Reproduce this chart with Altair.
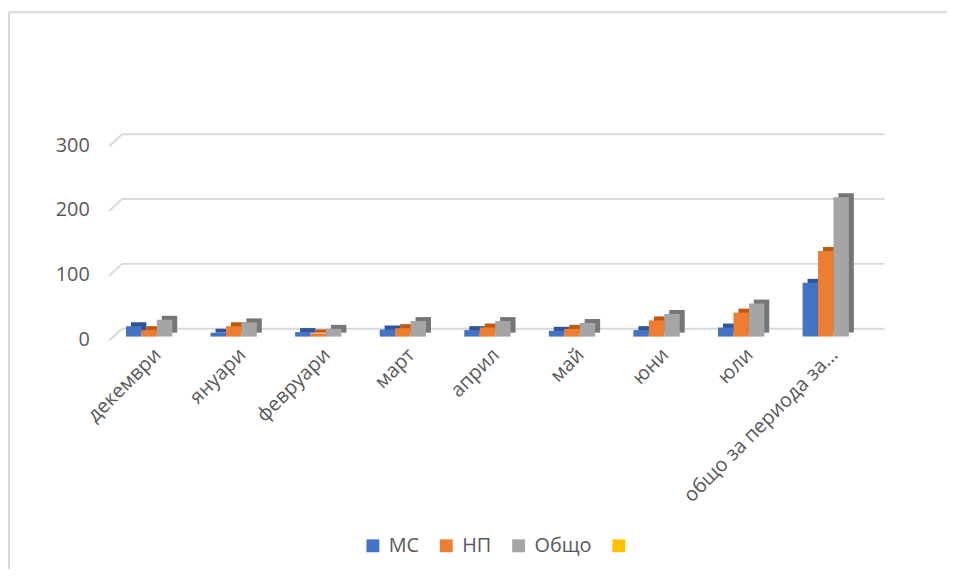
import altair as alt
import pandas as pd

# ---- data ----
categories = ["декември", "януари", "февруари", "март", "април", "май", "юни", "юли", "общо за периода за…"]
ms_values = [16, 6, 7, 11, 10, 9, 10, 14, 83]
np_values = [10, 16, 5, 13, 14, 12, 25, 37, 132]
total_values = [26, 22, 12, 24, 24, 21, 35, 51, 215]
series_names = ["МС", "НП", "Общо"]
legend_names = ["МС", "НП", "Общо", " "]
front_colors = ["#4472C4", "#ED7D31", "#A5A5A5", "#FFC000"]
side_colors = ["#2F5597", "#C0580F", "#767676"]
y_ticks = [0, 100, 200, 300]

rows = []
for i, c in enumerate(categories):
    for s, vals in zip(series_names, [ms_values, np_values, total_values]):
        rows.append({"cat": c, "series": s, "value": vals[i]})
df = pd.DataFrame(rows)
grid_df = pd.DataFrame({"value": y_ticks})
one = pd.DataFrame({"a": [0]})

W, H = 767, 196
FONT = "Open Sans"
GRID = "#D9D9D9"

y_axis = alt.Axis(title=None, values=y_ticks, labelFontSize=20, labelFont=FONT,
                  labelColor="#595959", domain=False, ticks=False, grid=False,
                  labelPadding=18, labelOffset=3)
y_scale = alt.Scale(domain=[0, 300], nice=False)

x_enc = alt.X("cat:N", sort=categories,
              scale=alt.Scale(paddingInner=0.453, paddingOuter=0.2225),
              axis=alt.Axis(title=None, labelAngle=315, labelAlign="right", labelBaseline="middle",
                            labelPadding=15, labelOffset=9, labelFontSize=20, labelFont=FONT,
                            labelColor="#595959", domain=False, ticks=False, labelLimit=400,
                            labelOverlap=False))
y_enc = alt.Y("value:Q", scale=y_scale, axis=y_axis)

# back wall gridlines
grid_back = alt.Chart(grid_df).mark_rule(color=GRID, strokeWidth=2, yOffset=-8).encode(
    y=y_enc, x=alt.value(15), x2=alt.value(W + 17))
grid_diag = alt.Chart(grid_df).mark_rule(color=GRID, strokeWidth=2, yOffset=4, y2Offset=-8).encode(
    y=y_enc, y2="value:Q", x=alt.value(2), x2=alt.value(15))

# 3D side/top faces
side = alt.Chart(df).mark_bar(yOffset=-4).encode(
    x=x_enc, y=y_enc,
    xOffset=alt.XOffset("series:N", sort=series_names,
                        scale=alt.Scale(domain=series_names, range=[5, 51.7], paddingInner=0, paddingOuter=0)),
    color=alt.Color("series:N", scale=alt.Scale(domain=series_names, range=side_colors), legend=None))

front = alt.Chart(df).mark_bar().encode(
    x=x_enc, y=y_enc,
    xOffset=alt.XOffset("series:N", sort=series_names,
                        scale=alt.Scale(domain=series_names, range=[0, 46.7], paddingInner=0, paddingOuter=0)),
    color=alt.Color("series:N", scale=alt.Scale(domain=legend_names, range=front_colors),
                    legend=alt.Legend(title=None, orient="none", direction="horizontal", columns=4,
                                      legendX=258, legendY=397, symbolType="square", symbolSize=169,
                                      symbolStrokeWidth=0, labelFontSize=20, labelFont=FONT,
                                      labelColor="#595959", labelOffset=6, columnPadding=17,
                                      symbolOffset=0)))

frame_top = alt.Chart(one).mark_rule(color=GRID, strokeWidth=2).encode(
    x=alt.value(-99), x2=alt.value(W + 80), y=alt.value(-131))
frame_left = alt.Chart(one).mark_rule(color=GRID, strokeWidth=2).encode(
    x=alt.value(-99), y=alt.value(-131), y2=alt.value(H + 240))

chart = alt.layer(frame_top, frame_left, grid_back, grid_diag, side, front).resolve_scale(
    xOffset="independent", color="independent"
).properties(
    width=W, height=H,
    autosize=alt.AutoSizeParams(type="none"),
    padding={"left": 100, "top": 133, "right": 80, "bottom": 232},
    background="white"
).configure_view(stroke=None)

chart.save("out.html", embed_options={"renderer": "svg", "actions": False})
